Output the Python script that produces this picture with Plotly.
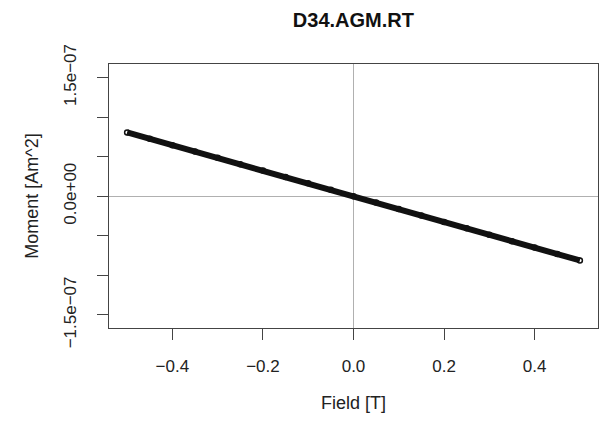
import plotly.graph_objects as go

field_T = [-0.50, -0.45, -0.40, -0.35, -0.30, -0.25, -0.20, -0.15, -0.10, -0.05, 0.00,
           0.05, 0.10, 0.15, 0.20, 0.25, 0.30, 0.35, 0.40, 0.45, 0.50]
moment_Am2 = [8.05e-8, 7.25e-8, 6.45e-8, 5.65e-8, 4.85e-8, 4.05e-8, 3.24e-8, 2.43e-8, 1.62e-8, 0.81e-8, 0.0,
              -0.81e-8, -1.63e-8, -2.44e-8, -3.25e-8, -4.06e-8, -4.87e-8, -5.68e-8, -6.49e-8, -7.30e-8, -8.12e-8]

x_ticks = [-0.4, -0.2, 0.0, 0.2, 0.4]
x_tick_text = ["\u22120.4", "\u22120.2", "0.0", "0.2", "0.4"]
y_ticks = [-1.5e-7, -1.0e-7, -0.5e-7, 0.0, 0.5e-7, 1.0e-7, 1.5e-7]
y_tick_text = ["\u22121.5e\u221207", "", "", "0.0e+00", "", "", "1.5e\u221207"]

title_text = "D34.AGM.RT"
x_title = "Field [T]"
y_title = "Moment [Am^2]"

font_family = "Liberation Sans, Arial, sans-serif"

fig = go.Figure()
fig.add_trace(go.Scatter(
    x=field_T, y=moment_Am2, mode="lines+markers",
    line=dict(color="#111111", width=6),
    marker=dict(symbol="circle-open", size=5, color="#111111", line=dict(width=1.5)),
    showlegend=False, hoverinfo="x+y",
))

axis_common = dict(
    showgrid=False, showline=True, mirror=True, linecolor="#444444", linewidth=1,
    ticks="outside", ticklen=11, tickcolor="#444444", tickwidth=1,
    tickfont=dict(family=font_family, size=17, color="#222222"),
    zeroline=True, zerolinecolor="#b0b0b0", zerolinewidth=1,
)

fig.update_layout(
    width=599, height=422,
    margin=dict(l=109, r=1, t=64, b=94),
    paper_bgcolor="white", plot_bgcolor="white",
    title=dict(text=f"<b>{title_text}</b>", x=0.59, xanchor="center", y=0.952, yanchor="middle",
               font=dict(family=font_family, size=20, color="#111111")),
    xaxis=dict(range=[-0.54, 0.54], tickvals=x_ticks, ticktext=x_tick_text,
               title=dict(text=x_title, font=dict(family=font_family, size=18, color="#222222"), standoff=20),
               ticklabelstandoff=12, **axis_common),
    yaxis=dict(range=[-1.665e-7, 1.67e-7], tickvals=y_ticks, ticktext=y_tick_text, tickangle=-90,
               title=dict(text=y_title, font=dict(family=font_family, size=18, color="#222222"), standoff=17),
               ticklabelstandoff=14, **axis_common),
)

fig.write_html("out.html")
